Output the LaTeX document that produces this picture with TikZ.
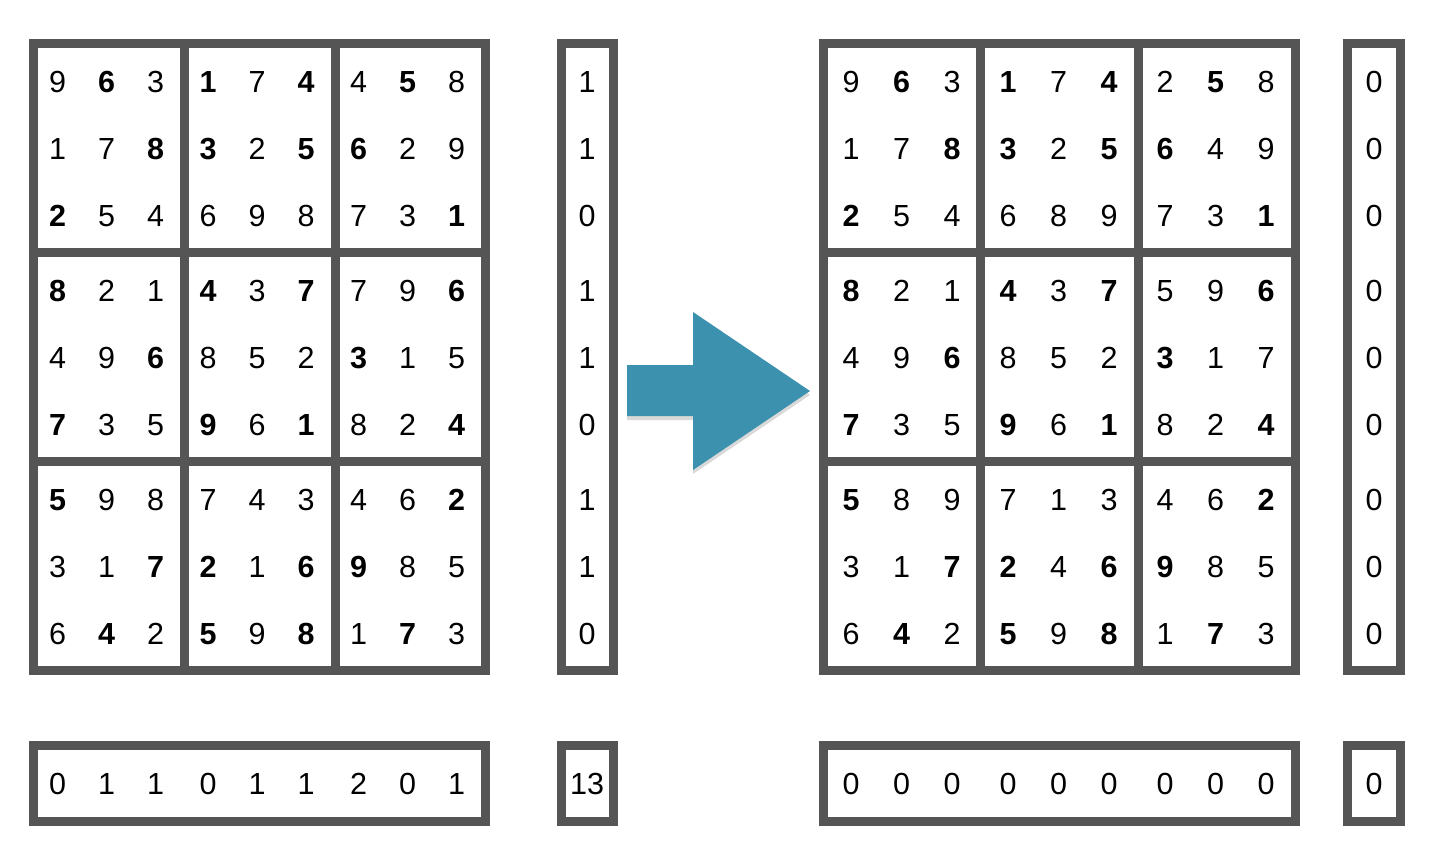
\documentclass[tikz,border=0pt]{standalone}
\usepackage{fontspec}
\setmainfont{Liberation Sans}
\usetikzlibrary{shadows}
\definecolor{boxgray}{RGB}{85,85,85}
\definecolor{arrowteal}{RGB}{59,145,174}
\newcommand{\bd}[1]{\textbf{#1}}
\tikzset{box/.style={draw=boxgray,line width=9pt},
  digit/.style={inner sep=0pt,font=\fontsize{30.5}{36}\selectfont}}

\begin{document}
\begin{tikzpicture}[x=1pt,y=-1pt]
\useasboundingbox (0,0) rectangle (1454,860);

% left grid with row and column counts
\draw[box] (33.5,43.5) rectangle (485.5,670);
\foreach \x in {184.5,335} \draw[box] (\x,43.5) -- (\x,670);
\foreach \y in {252.5,461} \draw[box] (33.5,\y) -- (485.5,\y);
\draw[box] (561.5,43.5) rectangle (613,670);
\draw[box] (33.5,745.5) rectangle (485.5,821);
\draw[box] (561.5,745.5) rectangle (613,821);

\foreach \row[count=\r] in {{9,\bd6,3,\bd1,7,\bd4,4,\bd5,8},{1,7,\bd8,\bd3,2,\bd5,\bd6,2,9},
  {\bd2,5,4,6,9,8,7,3,\bd1},{\bd8,2,1,\bd4,3,\bd7,7,9,\bd6},{4,9,\bd6,8,5,2,\bd3,1,5},
  {\bd7,3,5,\bd9,6,\bd1,8,2,\bd4},{\bd5,9,8,7,4,3,4,6,\bd2},{3,1,\bd7,\bd2,1,\bd6,\bd9,8,5},
  {6,\bd4,2,\bd5,9,\bd8,1,\bd7,3}} {
\foreach \v[count=\c] in \row {
\pgfmathsetmacro\px{57.5+150.5*int((\c-1)/3)+49*mod(\c-1,3)}
\pgfmathsetmacro\py{82+209*int((\r-1)/3)+67*mod(\r-1,3)}
\node[digit] (l\r-\c) at (\px,\py) {\v}; }}

\foreach \v[count=\r] in {1,1,0,1,1,0,1,1,0} {
\pgfmathsetmacro\py{82+209*int((\r-1)/3)+67*mod(\r-1,3)}
\node[digit] (lr\r) at (587,\py) {\v}; }
\foreach \v[count=\c] in {0,1,1,0,1,1,2,0,1} {
\pgfmathsetmacro\px{57.5+150.5*int((\c-1)/3)+49*mod(\c-1,3)}
\node[digit] (lc\c) at (\px,784) {\v}; }
\node[digit] (ltotal) at (587,784) {13};

% arrow
\fill[arrowteal,drop shadow={opacity=.3,shadow xshift=0pt,shadow yshift=-4pt}]
  (627,365) -- (693,365) -- (693,312) -- (810,391) -- (693,470) -- (693,416) -- (627,416) -- cycle;

% right grid, solved
\draw[box] (823.5,43.5) rectangle (1295,670);
\foreach \x in {980.5,1138} \draw[box] (\x,43.5) -- (\x,670);
\foreach \y in {252.5,461} \draw[box] (823.5,\y) -- (1295,\y);
\draw[box] (1347.5,43.5) rectangle (1400.5,670);
\draw[box] (823.5,745.5) rectangle (1295,821);
\draw[box] (1347.5,745.5) rectangle (1400.5,821);

\foreach \row[count=\r] in {{9,\bd6,3,\bd1,7,\bd4,2,\bd5,8},{1,7,\bd8,\bd3,2,\bd5,\bd6,4,9},
  {\bd2,5,4,6,8,9,7,3,\bd1},{\bd8,2,1,\bd4,3,\bd7,5,9,\bd6},{4,9,\bd6,8,5,2,\bd3,1,7},
  {\bd7,3,5,\bd9,6,\bd1,8,2,\bd4},{\bd5,8,9,7,1,3,4,6,\bd2},{3,1,\bd7,\bd2,4,\bd6,\bd9,8,5},
  {6,\bd4,2,\bd5,9,\bd8,1,\bd7,3}} {
\foreach \v[count=\c] in \row {
\pgfmathsetmacro\px{851+157*int((\c-1)/3)+50.5*mod(\c-1,3)}
\pgfmathsetmacro\py{82+209*int((\r-1)/3)+67*mod(\r-1,3)}
\node[digit] (r\r-\c) at (\px,\py) {\v}; }}

\foreach \r in {1,...,9} {
\pgfmathsetmacro\py{82+209*int((\r-1)/3)+67*mod(\r-1,3)}
\node[digit] (rr\r) at (1374,\py) {0}; }
\foreach \c in {1,...,9} {
\pgfmathsetmacro\px{851+157*int((\c-1)/3)+50.5*mod(\c-1,3)}
\node[digit] (rc\c) at (\px,784) {0}; }
\node[digit] (rtotal) at (1374,784) {0};

\end{tikzpicture}
\end{document}
